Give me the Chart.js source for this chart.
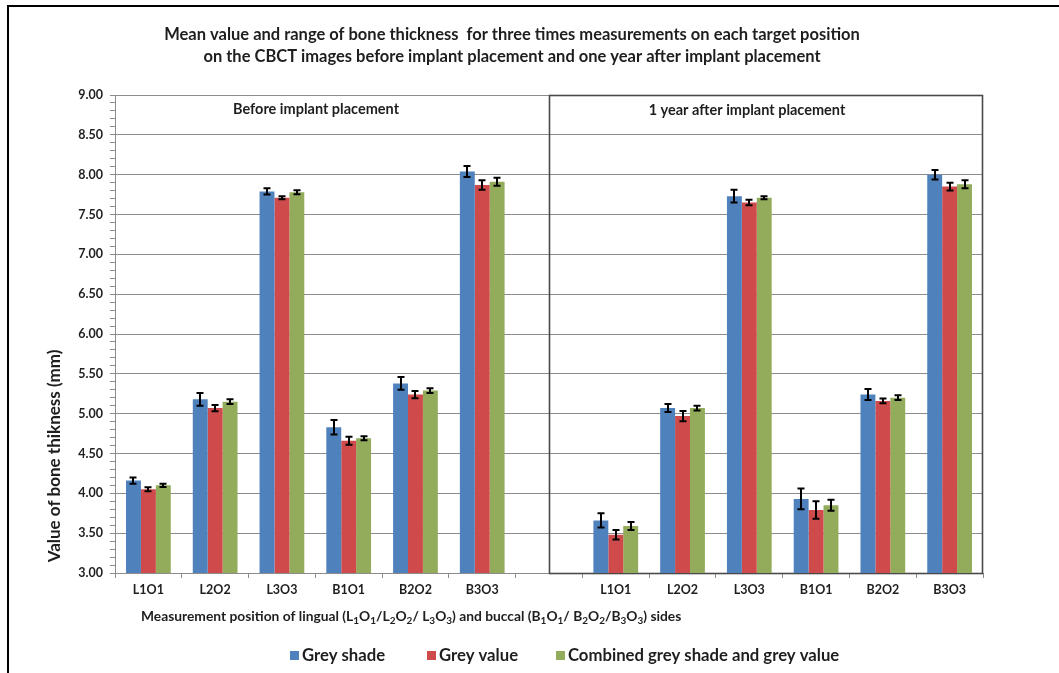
<!DOCTYPE html>
<html>
<head>
<meta charset="utf-8">
<script src="https://cdn.jsdelivr.net/npm/chart.js@4/dist/chart.umd.min.js"></script>
<style>
  html, body { margin: 0; padding: 0; background: #ffffff; }
  #wrap { width: 1059px; height: 673px; position: relative; }
</style>
</head>
<body>
<div id="wrap"><canvas id="chart" width="1059" height="673"></canvas></div>
<script>
// Measurement positions: six before implant placement, a spacer, six one year after
const categories = ['L1O1', 'L2O2', 'L3O3', 'B1O1', 'B2O2', 'B3O3', '',
                    'L1O1', 'L2O2', 'L3O3', 'B1O1', 'B2O2', 'B3O3'];

// Mean bone thickness (mm)
const greyShade = [4.16, 5.18, 7.79, 4.83, 5.38, 8.04, null, 3.66, 5.07, 7.73, 3.93, 5.24, 8.00];
const greyValue = [4.05, 5.07, 7.71, 4.66, 5.24, 7.87, null, 3.48, 4.97, 7.65, 3.79, 5.16, 7.85];
const combined  = [4.10, 5.15, 7.78, 4.69, 5.29, 7.91, null, 3.59, 5.07, 7.71, 3.85, 5.20, 7.88];

// Half range of the three repeated measurements (mm)
const greyShadeRange = [0.04, 0.08, 0.04, 0.09, 0.08, 0.07, null, 0.09, 0.05, 0.08, 0.13, 0.07, 0.06];
const greyValueRange = [0.025, 0.04, 0.02, 0.05, 0.045, 0.06, null, 0.06, 0.065, 0.035, 0.11, 0.03, 0.05];
const combinedRange  = [0.02, 0.03, 0.025, 0.025, 0.03, 0.05, null, 0.05, 0.03, 0.02, 0.07, 0.03, 0.05];

const seriesNames = ['Grey shade', 'Grey value', 'Combined grey shade and grey value'];
const seriesColors = ['#4f81bd', '#cf4b4b', '#93ac5c'];

const titleLines = [
  'Mean value and range of bone thickness  for three times measurements on each target position',
  'on the CBCT images before implant placement and one year after implant placement'
];
const yAxisTitle = 'Value of bone thikness (mm)';
const groupLabels = ['Before implant placement', '1 year after implant placement'];

// x-axis title pieces: [text, subscript?]
const xAxisTitle = [
  ['Measurement position of lingual (L', false], ['1', true], ['O', false], ['1', true],
  ['/L', false], ['2', true], ['O', false], ['2', true],
  ['/ L', false], ['3', true], ['O', false], ['3', true],
  [') and buccal (B', false], ['1', true], ['O', false], ['1', true],
  ['/ B', false], ['2', true], ['O', false], ['2', true],
  ['/B', false], ['3', true], ['O', false], ['3', true],
  [') sides', false]
];

const FONT = 'Lato, "Open Sans", sans-serif';
const TEXT = '#1e1e1e';

// Frame, titles, the "after" panel box and the legend
const decorations = {
  id: 'decorations',
  beforeDatasetsDraw(chart) {
    const {ctx, scales: {x, y}, chartArea} = chart;
    ctx.save();
    const left = Math.round(x.getPixelForValue(6)) + 0.5;
    const top = Math.round(y.getPixelForValue(9)) + 0.5;
    const bottom = Math.round(y.getPixelForValue(3)) + 0.5;
    const right = Math.round(chartArea.right) - 0.5;
    ctx.strokeStyle = '#4a4a4a';
    ctx.lineWidth = 1.6;
    ctx.strokeRect(left, top, right - left, bottom - top);
    ctx.restore();
  },
  afterDraw(chart) {
    const {ctx} = chart;
    ctx.save();
    // outer frame
    ctx.strokeStyle = '#000';
    ctx.lineWidth = 2;
    ctx.beginPath();
    ctx.moveTo(8, 680); ctx.lineTo(8, 6); ctx.lineTo(1070, 6);
    ctx.stroke();

    ctx.fillStyle = TEXT;
    ctx.textBaseline = 'middle';
    // chart title
    ctx.textAlign = 'center';
    ctx.font = 'bold 16.5px ' + FONT;
    ctx.fillText(titleLines[0], 512, 35);
    ctx.fillText(titleLines[1], 512, 57);

    // panel labels
    ctx.font = 'bold 14.5px ' + FONT;
    ctx.fillText(groupLabels[0], 316, 109);
    ctx.fillText(groupLabels[1], 747, 110);

    // y-axis title
    ctx.save();
    ctx.translate(55, 456);
    ctx.rotate(-Math.PI / 2);
    ctx.font = 'bold 17px ' + FONT;
    ctx.fillText(yAxisTitle, 0, 0);
    ctx.restore();

    // x-axis title with subscripts
    ctx.textAlign = 'left';
    let cx = 141;
    xAxisTitle.forEach(([t, sub]) => {
      ctx.font = sub ? 'bold 10px ' + FONT : 'bold 13.8px ' + FONT;
      ctx.fillText(t, cx, sub ? 621 : 617);
      cx += ctx.measureText(t).width;
    });

    // legend
    ctx.font = 'bold 16.7px ' + FONT;
    const legendX = [290, 427, 556];
    chart.data.datasets.forEach((ds, i) => {
      ctx.fillStyle = ds.backgroundColor;
      ctx.fillRect(legendX[i], 651, 9, 9);
      ctx.fillStyle = TEXT;
      ctx.fillText(ds.label, legendX[i] + 12, 656);
    });
    ctx.restore();
  }
};

// Range whiskers for every bar
const rangeBars = {
  id: 'rangeBars',
  afterDatasetsDraw(chart) {
    const {ctx, scales: {y}} = chart;
    ctx.save();
    ctx.strokeStyle = '#000';
    ctx.lineWidth = 2;
    chart.data.datasets.forEach((ds, di) => {
      const meta = chart.getDatasetMeta(di);
      meta.data.forEach((bar, i) => {
        const v = ds.data[i], r = ds.range[i];
        if (v == null || r == null) return;
        const yt = y.getPixelForValue(v + r);
        const yb = y.getPixelForValue(v - r);
        const xc = Math.round(bar.x);
        ctx.beginPath();
        ctx.moveTo(xc, yt); ctx.lineTo(xc, yb);
        ctx.moveTo(xc - 3.5, yt); ctx.lineTo(xc + 3.5, yt);
        ctx.moveTo(xc - 3.5, yb); ctx.lineTo(xc + 3.5, yb);
        ctx.stroke();
      });
    });
    ctx.restore();
  }
};

const values = [greyShade, greyValue, combined];
const ranges = [greyShadeRange, greyValueRange, combinedRange];

new Chart(document.getElementById('chart'), {
  type: 'bar',
  data: {
    labels: categories,
    datasets: values.map((d, i) => ({
      label: seriesNames[i],
      data: d,
      range: ranges[i],
      backgroundColor: seriesColors[i],
      borderWidth: 0,
      categoryPercentage: 0.67,
      barPercentage: 1.0
    }))
  },
  options: {
    responsive: false,
    animation: false,
    layout: { padding: { left: 8, top: 95, right: 76, bottom: 0 } },
    plugins: {
      legend: { display: false },
      title: { display: false },
      tooltip: { enabled: false }
    },
    scales: {
      x: {
        afterFit(scale) { scale.height = 100; },
        grid: {
          drawOnChartArea: false,
          tickLength: 5,
          color: '#8c8c8c',
          offset: true
        },
        border: { color: '#8c8c8c', width: 1 },
        ticks: {
          color: TEXT,
          font: { family: FONT, size: 12.5, weight: 'bold' },
          padding: 4,
          maxRotation: 0,
          autoSkip: false
        }
      },
      y: {
        min: 3,
        max: 9,
        afterFit(scale) { scale.width = 107; },
        afterBuildTicks(scale) {
          const t = [];
          for (let k = 30; k <= 90; k++) t.push({ value: k / 10 });
          scale.ticks = t;
        },
        grid: {
          tickLength: 5,
          color: (c) => (Math.round(c.tick.value * 10) % 5 === 0 ? '#8c8c8c' : 'rgba(0,0,0,0)'),
          tickColor: '#8c8c8c'
        },
        border: { color: '#8c8c8c', width: 1 },
        ticks: {
          autoSkip: false,
          color: TEXT,
          padding: 7,
          font: { family: FONT, size: 12.5, weight: 'bold' },
          callback: (v) => (Math.round(v * 10) % 5 === 0 ? Number(v).toFixed(2) : '')
        }
      }
    }
  },
  plugins: [decorations, rangeBars]
});
</script>
</body>
</html>
